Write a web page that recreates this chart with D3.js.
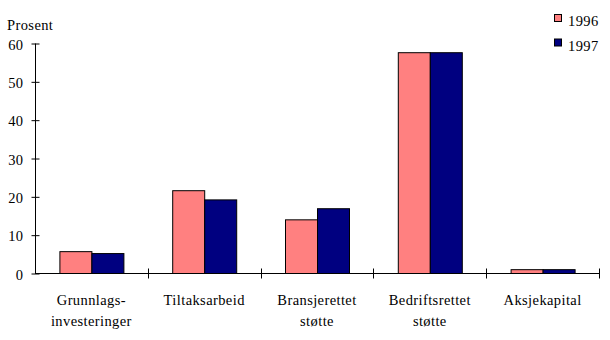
<!DOCTYPE html>
<html><head><meta charset="utf-8">
<script src="https://cdn.jsdelivr.net/npm/d3@7"></script>
<style>body{margin:0;background:#fff}svg{display:block}svg text{font-family:'Liberation Serif','DejaVu Serif',serif;fill:#000;letter-spacing:0.4px}</style>
</head><body><svg id="c" width="610" height="340"></svg>
<script>
const categories = [["Grunnlags-","investeringer"],["Tiltaksarbeid"],["Bransjerettet","støtte"],["Bedriftsrettet","støtte"],["Aksjekapital"]];
const series = ["1996","1997"];
const values1996 = [5.7, 21.6, 14.0, 57.6, 1.0];
const values1997 = [5.2, 19.2, 16.9, 57.6, 1.0];
const yTicks = [0,10,20,30,40,50,60];
const colors = ["#FF8080","#000080"];

const FONT = "'Liberation Serif', 'DejaVu Serif', serif";
const FS = 14.5;
const svg = d3.select("#c");
const x0 = 35, x1 = 599, yTop = 43, yBot = 273;
const x = d3.scaleBand().domain(d3.range(categories.length)).range([x0,x1]).paddingInner(0).paddingOuter(0);
const y = d3.scaleLinear().domain([0,60]).range([yBot,yTop]);
const groupW = 64;
const xs = d3.scaleBand().domain(series).range([0,groupW]);
const data = [values1996, values1997];

series.forEach((s,si)=>{
  svg.append("g").selectAll("rect").data(data[si]).join("rect")
    .attr("x",(d,i)=>x(i)+(x.bandwidth()-groupW)/2+xs(s)+0.5)
    .attr("y",d=>y(d)+0.5)
    .attr("width",xs.bandwidth())
    .attr("height",d=>yBot-y(d))
    .attr("fill",colors[si]).attr("stroke","#000").attr("stroke-width",1);
});

const ya = svg.append("g").attr("transform",`translate(${x0+0.5},0.5)`)
  .call(d3.axisLeft(y).tickValues(yTicks).tickSize(4).tickPadding(8).tickFormat(d3.format("d")));
ya.attr("font-family",FONT).attr("font-size",FS);
ya.selectAll(".tick line").attr("x1",-4).attr("x2",4).attr("stroke","#000");
ya.select(".domain").attr("d",`M0,${yTop}V${yBot}`).attr("stroke","#000");
ya.selectAll("text").attr("fill","#000").attr("dy","0.4em");

const xa = svg.append("g").attr("transform",`translate(0,${yBot+0.5})`);
xa.append("line").attr("x1",x0).attr("x2",x1+0.5).attr("stroke","#000");
const tickPos = d3.range(categories.length).map(i=>x(i)).concat([x1]);
xa.selectAll("line.t").data(tickPos.slice(1)).join("line").attr("class","t")
  .attr("x1",d=>Math.round(d)+0.5).attr("x2",d=>Math.round(d)+0.5).attr("y1",-5).attr("y2",5).attr("stroke","#000");

categories.forEach((lines,i)=>{
  const cx = x(i)+x.bandwidth()/2;
  const t = svg.append("text").attr("text-anchor","middle").attr("font-size",FS).attr("font-family",FONT)
    .attr("x",cx).attr("y",305);
  lines.forEach((l,li)=>t.append("tspan").attr("x",cx).attr("dy",li?20.5:0).text(l));
});

svg.append("text").attr("x",7).attr("y",30).attr("font-size",FS).attr("font-family",FONT).text("Prosent");

series.forEach((s,si)=>{
  svg.append("rect").attr("x",554.5).attr("y",14.5+24.5*si).attr("width",7).attr("height",7)
    .attr("fill",colors[si]).attr("stroke","#000");
  svg.append("text").attr("x",568).attr("y",26+24.5*si).attr("font-size",FS).attr("font-family",FONT).text(s);
});
</script></body></html>
